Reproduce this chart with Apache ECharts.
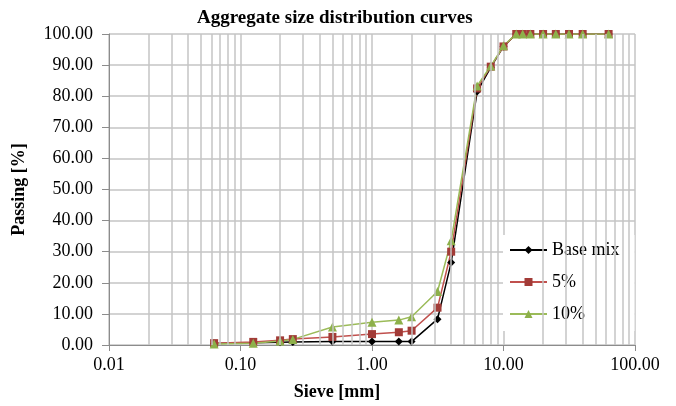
<!DOCTYPE html>
<html>
<head>
<meta charset="utf-8">
<script src="https://cdn.jsdelivr.net/npm/echarts@6/dist/echarts.min.js"></script>
<style>
  html, body { margin: 0; padding: 0; background: #fff; }
  #chart { width: 676px; height: 406px; }
</style>
</head>
<body>
<div id="chart"></div>
<script>
// sieve sizes [mm]
const sieves = [0.063, 0.125, 0.2, 0.25, 0.5, 1, 1.6, 2, 3.15, 4, 6.3, 8, 10, 12.5, 14, 16, 20, 25, 31.5, 40, 63];

// passing [%]
const baseMix = [0.5, 0.7, 0.9, 1.0, 1.1, 1.1, 1.1, 1.1, 8.3, 26.5, 81.5, 89.3, 96.0, 100, 100, 100, 100, 100, 100, 100, 100];
const mix5 = [0.6, 1.0, 1.5, 1.9, 2.6, 3.5, 4.1, 4.6, 12.0, 30.0, 82.5, 89.5, 96.0, 100, 100, 100, 100, 100, 100, 100, 100];
const mix10 = [0.3, 0.6, 1.3, 1.8, 5.8, 7.3, 8.0, 9.1, 17.2, 33.5, 83.3, 89.7, 96.2, 100, 100, 100, 100, 100, 100, 100, 100];

const seriesNames = ['Base mix', '5%', '10%'];

// minor vertical gridlines of the log axis
const minorGrid = [
  0.02, 0.03, 0.04, 0.05, 0.06, 0.07, 0.08, 0.09,
  0.2, 0.3, 0.4, 0.5, 0.6, 0.7, 0.8, 0.9,
  2, 3, 4, 5, 6, 7, 8, 9,
  20, 30, 40, 50, 60, 70, 80, 90
];

const serif = '"Liberation Serif", "DejaVu Serif", serif';
const gridColor = '#c4c4c4';

const pairs = (vals) => sieves.map((s, i) => [s, vals[i]]);

const chart = echarts.init(document.getElementById('chart'));

const option = {
  animation: false,
  backgroundColor: '#fff',
  title: {
    text: 'Aggregate size distribution curves',
    left: 197,
    top: 9,
    padding: 0,
    textStyle: { fontFamily: serif, fontSize: 19, fontWeight: 'bold', color: '#000' }
  },
  legend: {
    data: seriesNames,
    orient: 'vertical',
    left: 503,
    top: 235,
    padding: [6, 15, 8, 6],
    backgroundColor: '#fff',
    itemWidth: 37,
    itemHeight: 10,
    itemGap: 14,
    textStyle: { fontFamily: serif, fontSize: 18, color: '#000' }
  },
  grid: {
    left: 109,
    right: 41,
    top: 34,
    bottom: 55,
    containLabel: false
  },
  xAxis: {
    type: 'log',
    logBase: 10,
    min: 0.01,
    max: 100,
    name: 'Sieve [mm]',
    nameLocation: 'middle',
    nameGap: 38,
    nameTextStyle: {
      fontFamily: serif, fontSize: 18, fontWeight: 'bold', color: '#000',
      padding: [0, 70, 0, 0]
    },
    axisLine: { lineStyle: { color: '#8c8c8c', width: 1 } },
    axisTick: { show: true, inside: false, length: 6, lineStyle: { color: '#8c8c8c' } },
    axisLabel: {
      margin: 11,
      fontFamily: serif, fontSize: 18, color: '#000',
      formatter: (v) => Number(v).toFixed(2)
    },
    splitLine: { show: true, lineStyle: { color: gridColor, width: 1.5 } }
  },
  yAxis: {
    type: 'value',
    min: 0,
    max: 100,
    interval: 10,
    name: 'Passing [%]',
    nameLocation: 'middle',
    nameGap: 81,
    nameTextStyle: { fontFamily: serif, fontSize: 18, fontWeight: 'bold', color: '#000' },
    axisLine: { show: true, lineStyle: { color: '#8c8c8c', width: 1 } },
    axisTick: { show: true, inside: false, length: 7, lineStyle: { color: '#8c8c8c' } },
    axisLabel: {
      margin: 16,
      fontFamily: serif, fontSize: 18, color: '#000',
      formatter: (v) => v.toFixed(2)
    },
    splitLine: { show: true, lineStyle: { color: gridColor, width: 1.5 } }
  },
  series: [
    {
      // holds the minor log gridlines
      name: 'grid',
      type: 'line',
      data: [],
      z: 1,
      silent: true,
      markLine: {
        silent: true,
        symbol: 'none',
        label: { show: false },
        lineStyle: { color: gridColor, width: 1.5, type: 'solid' },
        data: minorGrid.map((v) => ({ xAxis: v }))
      }
    },
    {
      name: 'Base mix',
      type: 'line',
      data: pairs(baseMix),
      symbol: 'diamond',
      symbolSize: 8,
      lineStyle: { color: '#000', width: 1.5 },
      itemStyle: { color: '#000' }
    },
    {
      name: '5%',
      type: 'line',
      data: pairs(mix5),
      symbol: 'rect',
      symbolSize: 8,
      lineStyle: { color: '#c0504d', width: 1.5 },
      itemStyle: { color: '#a23b37' }
    },
    {
      name: '10%',
      type: 'line',
      data: pairs(mix10),
      symbol: 'triangle',
      symbolSize: 9,
      lineStyle: { color: '#9bbb59', width: 1.5 },
      itemStyle: { color: '#8db04a' }
    }
  ]
};

chart.setOption(option);
</script>
</body>
</html>
